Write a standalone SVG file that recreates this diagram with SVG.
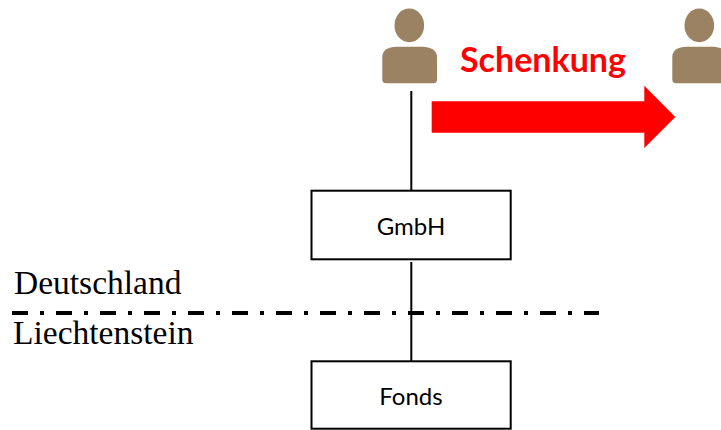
<svg xmlns="http://www.w3.org/2000/svg" width="721" height="430" viewBox="0 0 721 430">
<style>
.box{fill:#fff;stroke:#000;stroke-width:2}
.conn{stroke:#000;stroke-width:2;fill:none}
.person{fill:#9a8262}
.lbl{font-family:Lato,"Liberation Sans",sans-serif;font-size:24px;fill:#000;text-anchor:middle}
.land{font-family:"Liberation Serif",serif;font-size:33.500px;fill:#000}
</style>
<defs>
<g id="p">
<ellipse cx="27" cy="25.400" rx="14.800" ry="16.800"/>
<path d="M0 57C0 50 6 46.700 14 46.700H40C48 46.700 54.700 50 54.700 57V79.500Q54.700 83.300 51 83.300H3.700Q0 83.300 0 79.500Z"/>
</g>
</defs>
<g id="connectors">
<line class="conn" x1="411.300" y1="91" x2="411.300" y2="190"/>
<line class="conn" x1="411.300" y1="262" x2="411.300" y2="361"/>
<line x1="12" y1="313" x2="599" y2="313" stroke="#000" stroke-width="4" stroke-dasharray="16 12 4 12"/>
</g>
<g id="person1" class="person"><use href="#p" x="382.300"/></g>
<g id="person2" class="person"><use href="#p" x="672.300"/></g>
<g id="gmbh"><rect class="box" x="311.500" y="190.700" width="199.200" height="68.600"/><text class="lbl" x="411" y="235">GmbH</text></g>
<g id="fonds"><rect class="box" x="311.500" y="361.300" width="199.200" height="67.400"/><text class="lbl" x="411" y="405">Fonds</text></g>
<g id="schenkung"><polygon points="431.700,101.300 644.300,101.300 644.300,85.700 675.300,117 644.300,148 644.300,132.700 431.700,132.700" fill="#f00"/>
<text x="460" y="72" font-family="Lato,'Liberation Sans',sans-serif" font-size="34" font-weight="700" fill="#f00">Schenkung</text></g>
<text class="land" x="14" y="293.500">Deutschland</text>
<text class="land" x="13" y="344">Liechtenstein</text>
</svg>
